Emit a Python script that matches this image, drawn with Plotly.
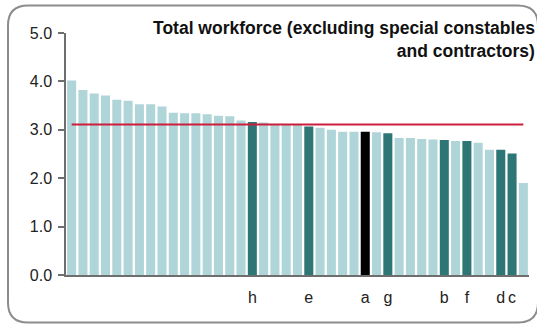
import plotly.graph_objects as go

# ---- data ----
values = [4.02, 3.82, 3.75, 3.71, 3.62, 3.60, 3.53, 3.53, 3.48, 3.35,
          3.34, 3.34, 3.32, 3.29, 3.28, 3.19, 3.16, 3.15, 3.11, 3.11,
          3.11, 3.07, 3.04, 3.00, 2.96, 2.96, 2.96, 2.95, 2.93, 2.83,
          2.83, 2.81, 2.80, 2.79, 2.77, 2.77, 2.73, 2.59, 2.59, 2.51,
          1.90]
label_pos = [16, 21, 26, 28, 33, 35, 38, 39]
label_text = ["h", "e", "a", "g", "b", "f", "d", "c"]
highlight_black = "a"
average = 3.11
y_ticks = [0, 1, 2, 3, 4, 5]
y_tick_text = ["0.0", "1.0", "2.0", "3.0", "4.0", "5.0"]
title_text = "Total workforce (excluding special constables<br>and contractors)"

LIGHT = "#afd5d8"
DARK = "#2e7676"
BLACK = "#000000"
RED = "#cc1e3c"

xs = list(range(len(values)))
colors = []
for i in xs:
    if i in label_pos:
        colors.append(BLACK if label_text[label_pos.index(i)] == highlight_black else DARK)
    else:
        colors.append(LIGHT)

W, H = 537, 324
ML, MR, MT, MB = 66, 8, 33, 49
PW, PH = W - ML - MR, H - MT - MB

def px(x):
    return (x - ML) / PW

def py(y):
    return (H - MB - y) / PH

fig = go.Figure()
fig.add_trace(go.Bar(x=xs, y=values, marker=dict(color=colors, line=dict(width=0)),
                     hoverinfo="skip"))
fig.add_trace(go.Scatter(x=[xs[0], xs[-1]], y=[average, average], mode="lines",
                         line=dict(color=RED, width=2), hoverinfo="skip"))

# rounded frame
L, T, R, B, r = 8, 5.5, 538, 322.5, 20
path = (f"M {px(L+r)},{py(T)} L {px(R-r)},{py(T)} Q {px(R)},{py(T)} {px(R)},{py(T+r)} "
        f"L {px(R)},{py(B-r)} Q {px(R)},{py(B)} {px(R-r)},{py(B)} "
        f"L {px(L+r)},{py(B)} Q {px(L)},{py(B)} {px(L)},{py(B-r)} "
        f"L {px(L)},{py(T+r)} Q {px(L)},{py(T)} {px(L+r)},{py(T)} Z")
fig.add_shape(type="path", path=path, xref="paper", yref="paper",
              line=dict(color="#8c8c8c", width=2), layer="below")

fig.add_annotation(text="<b>" + title_text + "</b>", xref="paper", yref="paper",
                   x=px(537), y=py(16), xanchor="right", yanchor="top", align="right",
                   showarrow=False, font=dict(size=17.5, color="#111111"))

fig.update_layout(
    width=W, height=H,
    margin=dict(l=ML, r=MR, t=MT, b=MB),
    paper_bgcolor="white", plot_bgcolor="white",
    showlegend=False, bargap=0.2,
    font=dict(family="Liberation Sans, Arial, sans-serif", size=16, color="#222222"),
)
fig.update_xaxes(range=[-0.5, len(values) - 0.5], tickvals=label_pos, ticktext=label_text,
                 ticks="", showgrid=False, zeroline=False, showline=True,
                 linecolor="#6e6e6e", linewidth=1.5, ticklabelstandoff=7,
                 tickfont=dict(size=16))
fig.update_yaxes(range=[0, 5], tickvals=y_ticks, ticktext=y_tick_text, ticks="outside",
                 ticklen=6, tickcolor="#6e6e6e", tickwidth=1.5, showgrid=False,
                 zeroline=False, showline=True, linecolor="#6e6e6e", linewidth=1.5,
                 ticklabelstandoff=3, tickfont=dict(size=16))

fig.write_html("out.html", config={"displayModeBar": False},
               post_script="document.body.style.margin='0';document.body.style.padding='0';document.body.style.overflow='hidden';")
